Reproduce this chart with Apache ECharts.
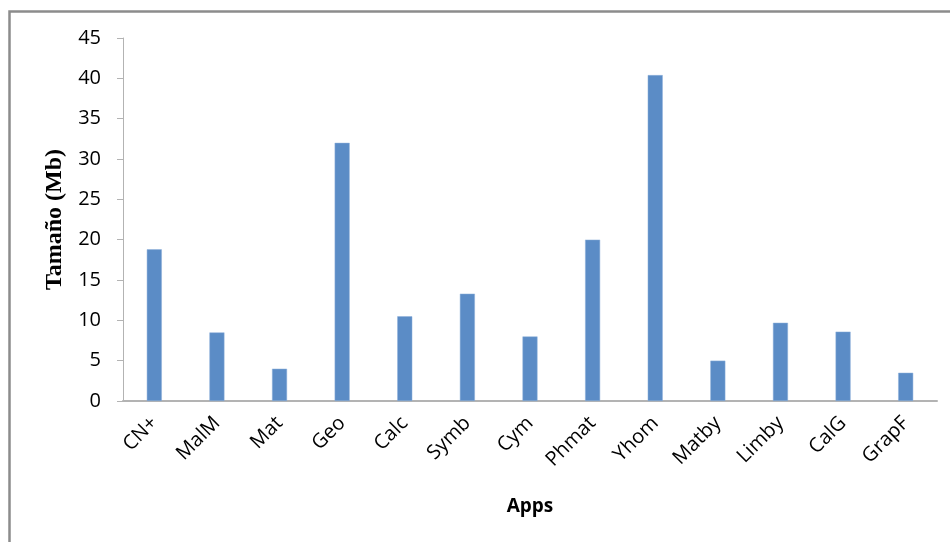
<!DOCTYPE html>
<html>
<head>
<meta charset="utf-8">
<script src="https://cdn.jsdelivr.net/npm/echarts@6/dist/echarts.min.js"></script>
<style>html,body{margin:0;padding:0;background:#fff}#c{width:950px;height:542px}</style>
</head>
<body>
<div id="c"></div>
<script>
var categories = ["CN+", "MalM", "Mat", "Geo", "Calc", "Symb", "Cym", "Phmat", "Yhom", "Matby", "Limby", "CalG", "GrapF"];
var sizes = [18.8, 8.5, 4.0, 32.0, 10.5, 13.3, 8.0, 20.0, 40.4, 5.0, 9.7, 8.6, 3.5];
var yTicks = [0, 5, 10, 15, 20, 25, 30, 35, 40, 45];

var chart = echarts.init(document.getElementById('c'), null, {renderer: 'canvas'});
chart.setOption({
  animation: false,
  graphic: [{
    type: 'rect', left: 7, top: 9, z: -1,
    shape: {width: 980, height: 580},
    style: {fill: 'none', stroke: '#8c8c8c', lineWidth: 2.5}
  }],
  grid: {left: 123, right: 13, top: 38, bottom: 141},
  xAxis: {
    type: 'category',
    data: categories,
    name: 'Apps',
    nameLocation: 'middle',
    nameGap: 96,
    nameTextStyle: {fontFamily: 'Open Sans', fontWeight: 'bold', fontSize: 19, color: '#000'},
    axisLine: {lineStyle: {color: '#b3b3b3', width: 2}},
    axisTick: {show: false},
    axisLabel: {rotate: 45, fontFamily: 'Open Sans', fontSize: 20, color: '#000', margin: 19, interval: 0}
  },
  yAxis: {
    type: 'value',
    min: yTicks[0],
    max: yTicks[yTicks.length - 1],
    interval: 5,
    name: 'Tamaño (Mb)',
    nameLocation: 'middle',
    nameGap: 50,
    nameRotate: 90,
    nameTextStyle: {fontFamily: 'Liberation Serif', fontWeight: 'bold', fontSize: 24, color: '#000'},
    axisLine: {show: true, lineStyle: {color: '#b3b3b3', width: 1}},
    axisTick: {show: true, length: 6, lineStyle: {color: '#b3b3b3'}},
    splitLine: {show: false},
    axisLabel: {fontFamily: 'Open Sans', fontSize: 20, color: '#000', margin: 22}
  },
  series: [{
    type: 'bar',
    data: sizes,
    barWidth: 15,
    itemStyle: {color: '#5b8cc6', borderColor: '#8fb0da', borderWidth: 0.5}
  }]
});
</script>
</body>
</html>
